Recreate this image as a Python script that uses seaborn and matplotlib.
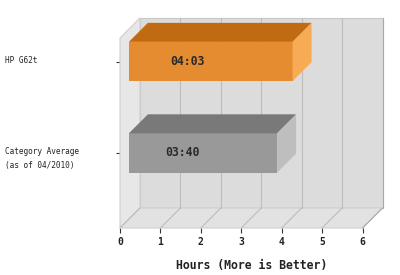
import numpy as np
import pandas as pd
import matplotlib
matplotlib.use("Agg")
import matplotlib.pyplot as plt
import seaborn as sns
from matplotlib.patches import Polygon
from matplotlib.lines import Line2D
from matplotlib.transforms import IdentityTransform, offset_copy, blended_transform_factory

# ---- data ----
systems = ["HP G62t", "Category Average\n(as of 04/2010)"]
hours = [4 + 3 / 60, 3 + 40 / 60]
bar_text = ["04:03", "03:40"]
xticks = [0, 1, 2, 3, 4, 5, 6]
xlabel = "Hours (More is Better)"

# ---- style ----
front_col = ["#E58B30", "#999999"]
top_col = ["#C06A12", "#797979"]
side_col = ["#F8AB55", "#BEBEBE"]
WALL_DEPTH = 20      # px
BAR_DEPTH = 19       # px
BAR_START = 0.22     # bars start slightly right of the wall
Y_LIM = (1.82, -0.257)

sns.set_theme(style="white")
plt.rcParams["font.family"] = ["DejaVu Sans Mono"]

W, H = 400, 275
fig = plt.figure(figsize=(W / 100, H / 100), dpi=100)
fig.patch.set_facecolor("white")
ax = fig.add_axes([120 / W, 47 / H, 242.5 / W, 190 / H])
ax.patch.set_alpha(0)

df = pd.DataFrame({"system": systems, "hours": hours})
sns.barplot(data=df, x="hours", y="system", hue="system", palette=front_col,
            orient="h", width=0.43, legend=False, ax=ax, saturation=1,
            linewidth=0, zorder=5)
ax.set_xlim(xticks[0], xticks[-1])
ax.set_ylim(*Y_LIM)
for s in ax.spines.values():
    s.set_visible(False)

ident = IdentityTransform()


def P(x, y, d=0):
    px, py = ax.transData.transform((x, y))
    return (px + d, py + d)


def poly(pts, fc, ec="none", z=1, lw=0.8):
    ax.add_patch(Polygon(pts, closed=True, facecolor=fc, edgecolor=ec,
                         linewidth=lw, transform=ident, clip_on=False, zorder=z))


def line(p1, p2, c, z=2, lw=0.8):
    ax.add_line(Line2D([p1[0], p2[0]], [p1[1], p2[1]], color=c, linewidth=lw,
                       transform=ident, clip_on=False, zorder=z))


x0, x1 = xticks[0], xticks[-1]
yb, yt = Y_LIM
D = WALL_DEPTH
# back wall, left wall, floor
poly([P(x0, yb, D), P(x1, yb, D), P(x1, yt, D), P(x0, yt, D)], "#DCDCDC", "#C8C8C8", 0.5)
poly([P(x0, yb), P(x0, yt), P(x0, yt, D), P(x0, yb, D)], "#E7E7E7", "#CFCFCF", 0.6)
poly([P(x0, yb), P(x1, yb), P(x1, yb, D), P(x0, yb, D)], "#E2E2E2", "#CFCFCF", 0.6)
for xv in xticks[1:]:
    line(P(xv, yb, D), P(xv, yt, D), "#BDBDBD" if xv < x1 else "#A9A9A9", 1)
for xv in xticks:
    line(P(xv, yb), P(xv, yb, D), "#BDBDBD" if xv < x1 else "#A9A9A9", 1)

# 3D bars
for i, p in enumerate(ax.patches[:len(hours)]):
    p.set_x(BAR_START)
    bx, bw = p.get_x(), p.get_width()
    ya, yb2 = p.get_y(), p.get_y() + p.get_height()
    ytop, ybot = min(ya, yb2), max(ya, yb2)
    poly([P(bx, ytop), P(bx + bw, ytop), P(bx + bw, ytop, BAR_DEPTH), P(bx, ytop, BAR_DEPTH)],
         top_col[i], z=6)
    poly([P(bx + bw, ytop), P(bx + bw, ybot), P(bx + bw, ybot, BAR_DEPTH), P(bx + bw, ytop, BAR_DEPTH)],
         side_col[i], z=6)
    ax.text(bx + 0.36 * bw, (ytop + ybot) / 2, bar_text[i], ha="center", va="center",
            fontsize=8.3, fontweight="bold", color="#2a2a2a", zorder=7)

# ticks
ax.set_xticks(xticks)
ax.set_xticklabels([str(t) for t in xticks], fontsize=7, fontweight="bold", color="#222222")
ax.tick_params(axis="x", bottom=True, length=3.6, width=0.8, color="#333333", pad=3)
ax.tick_params(axis="y", left=True, length=3, width=0.8, color="#333333", labelleft=False)
ax.set_ylabel("")
ax.set_xlabel(xlabel, fontsize=8.3, fontweight="bold", color="#222222")
ax.xaxis.set_label_coords(0.542, -0.195)
ax.xaxis.label.set_va("center")

# category labels, left aligned
bt = blended_transform_factory(fig.transFigure, ax.transData)
for i, lab in enumerate(systems):
    for j, ln in enumerate(lab.split("\n")):
        tr = offset_copy(bt, fig=fig, x=0, y=1 - 14 * j, units="dots")
        fig.text(5 / W, i, ln, transform=tr, ha="left", va="center", fontsize=5.6, color="#222222")

fig.savefig("out.png", dpi=100)
